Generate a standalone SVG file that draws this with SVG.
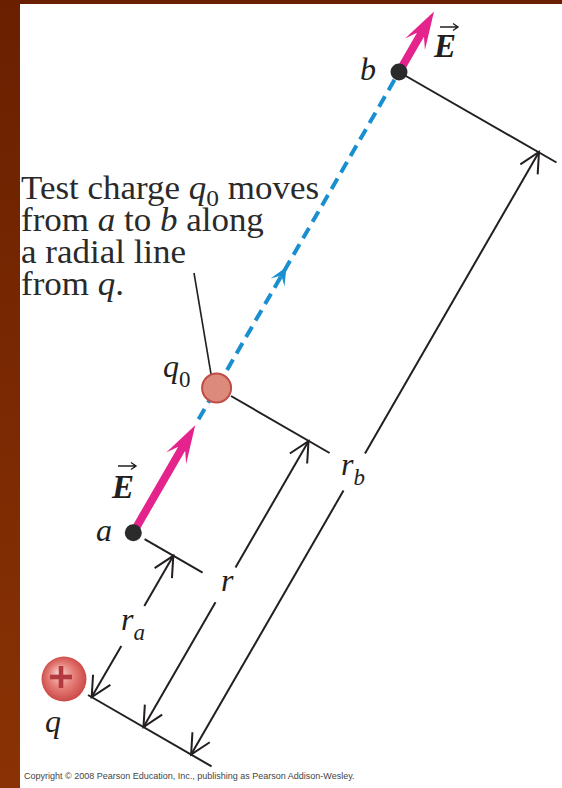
<svg xmlns="http://www.w3.org/2000/svg" width="562" height="788" viewBox="0 0 562 788">
<defs>
<style>
.dim{stroke:#231f20;stroke-width:2;fill:none}
.lbl{font-family:"Liberation Serif","Times New Roman",serif;font-style:italic;fill:#231f20;font-size:32px}
.vec{font-family:"Liberation Serif","Times New Roman",serif;font-style:italic;font-weight:bold;fill:#231f20;font-size:33px}
.sub{font-size:23px}
.body{font-family:"Liberation Serif","Times New Roman",serif;fill:#2a2a2a;font-size:33px}
.ovr{stroke:#231f20;stroke-width:1.4;fill:none}
.mag{fill:#e5238c}
.dot{fill:#2b2b2b}
</style>
<marker id="open" markerUnits="userSpaceOnUse" viewBox="-24 -13 28 26" refX="0" refY="0" markerWidth="28" markerHeight="26" orient="auto" overflow="visible">
<path d="M-20,-10 L0,0 L-20,10" fill="none" stroke="#231f20" stroke-width="2"/>
</marker>
<linearGradient id="border" x1="0" y1="0" x2="0" y2="1">
<stop offset="0" stop-color="#6a2000"/>
<stop offset="1" stop-color="#8a3205"/>
</linearGradient>
<radialGradient id="qgrad" cx="0.5" cy="0.5" r="0.55" fx="0.38" fy="0.35">
<stop offset="0" stop-color="#f7d6d2"/>
<stop offset="0.5" stop-color="#e67f79"/>
<stop offset="1" stop-color="#c7413f"/>
</radialGradient>
</defs>
<rect x="0" y="0" width="562" height="788" fill="#ffffff"/>
<rect x="0" y="0" width="562" height="4" fill="#6a2000"/>
<rect x="0" y="0" width="20" height="788" fill="url(#border)"/>

<g id="connectors">
<line class="dim" x1="405" y1="75.5" x2="556.5" y2="162.5"/>
<line class="dim" x1="231" y1="396" x2="329.6" y2="453"/>
<line class="dim" x1="144.6" y1="539.2" x2="202.6" y2="572.7"/>
<line class="dim" x1="88" y1="695" x2="211.6" y2="766.4"/>
<line class="dim" x1="144.3" y1="606" x2="173.3" y2="555.8" marker-end="url(#open)"/>
<line class="dim" x1="121.3" y1="645.9" x2="91.7" y2="697.1" marker-end="url(#open)"/>
<line class="dim" x1="235.5" y1="567.6" x2="308.5" y2="441.2" marker-end="url(#open)"/>
<line class="dim" x1="215.5" y1="602.3" x2="143.5" y2="727" marker-end="url(#open)"/>
<line class="dim" x1="365" y1="453.4" x2="539" y2="152" marker-end="url(#open)"/>
<line class="dim" x1="343.5" y1="490.6" x2="191.1" y2="754.6" marker-end="url(#open)"/>
<line x1="194" y1="273" x2="211" y2="374" stroke="#231f20" stroke-width="1.6"/>
<line x1="394.5" y1="79.8" x2="197" y2="422" stroke="#1a8fd0" stroke-width="4" stroke-dasharray="12 7"/>
<path d="M0,0 L-18,-8 L-12,-2 L-12,2 L-18,8 Z" fill="#1a8fd0" transform="translate(286.5,266.9) rotate(-60)"/>
</g>

<g id="E-at-b">
<path class="mag" d="M-70,-4 L-27,-4 L-38,-11.5 L0,0 L-38,11.5 L-27,4 L-70,4 Z" transform="translate(434,11.4) rotate(-60)"/>
<text class="vec" x="434" y="57">E</text>
<path class="ovr" d="M440,27 H458 M453,23.5 L458,27 L453,30.5"/>
</g>

<g id="E-at-a">
<path class="mag" d="M-124,-4 L-27,-4 L-38,-11.5 L0,0 L-38,11.5 L-27,4 L-124,4 Z" transform="translate(195.2,425.3) rotate(-60)"/>
<text class="vec" x="112" y="498">E</text>
<path class="ovr" d="M118,466 H136 M131,462.5 L136,466 L131,469.5"/>
</g>

<g id="b">
<circle class="dot" cx="399" cy="72" r="8.5"/>
<text class="lbl" x="360" y="80">b</text>
</g>

<g id="q0">
<circle cx="216.6" cy="388" r="14.5" fill="#dc8a7c" stroke="#bf4d45" stroke-width="2"/>
<text class="lbl" x="163" y="377">q<tspan class="sub" font-style="normal" dy="10">0</tspan></text>
</g>

<g id="a">
<circle class="dot" cx="133.3" cy="532.7" r="8.5"/>
<text class="lbl" x="96" y="541">a</text>
</g>

<g id="q">
<circle cx="64" cy="679" r="22.5" fill="url(#qgrad)"/>
<rect x="50" y="674.7" width="22" height="4.6" fill="#b33a40"/>
<rect x="58.7" y="666" width="4.6" height="22" fill="#b33a40"/>
<text class="lbl" x="45" y="732">q</text>
</g>

<g id="dim-labels">
<text class="lbl" x="221" y="591">r</text>
<text class="lbl" x="341" y="475">r<tspan class="sub" dy="10">b</tspan></text>
<text class="lbl" x="121" y="630">r<tspan class="sub" dy="10">a</tspan></text>
</g>

<g id="caption">
<text class="body" transform="translate(21,199) scale(1.06,1)">Test charge <tspan font-style="italic">q</tspan><tspan font-size="24" dy="7">0</tspan><tspan dy="-7"> moves</tspan></text>
<text class="body" transform="translate(21,231) scale(1.06,1)">from <tspan font-style="italic">a</tspan> to <tspan font-style="italic">b</tspan> along</text>
<text class="body" transform="translate(21,263) scale(1.06,1)">a radial line</text>
<text class="body" transform="translate(21,295) scale(1.06,1)">from <tspan font-style="italic">q</tspan>.</text>
</g>

<text x="24" y="779" font-family="'Liberation Sans',Arial,sans-serif" font-size="9" fill="#444">Copyright © 2008 Pearson Education, Inc., publishing as Pearson Addison-Wesley.</text>
</svg>
